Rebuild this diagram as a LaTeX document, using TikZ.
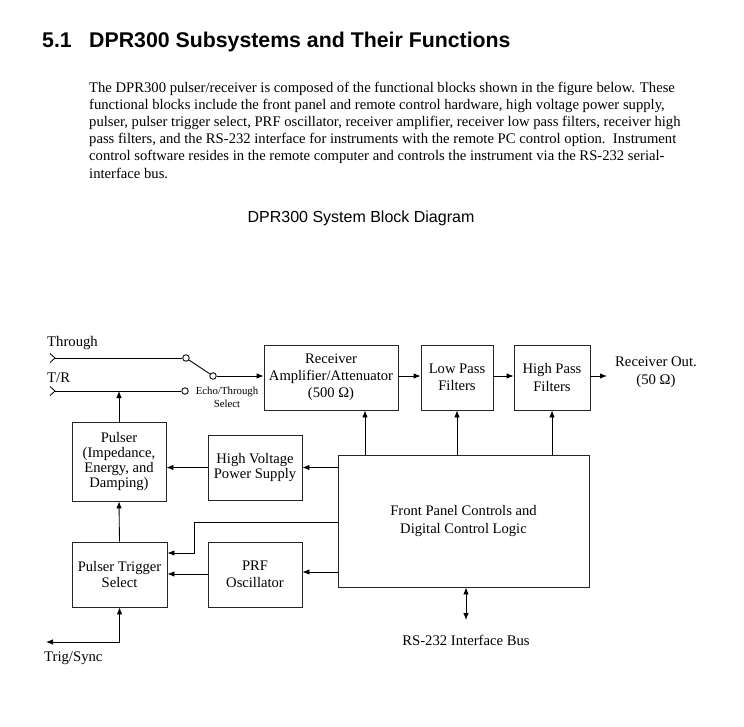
\documentclass[tikz,border=0pt]{standalone}
\usepackage{fontspec}
\setmainfont{Liberation Serif}
\newfontfamily\arialfont{Liberation Sans}
\usetikzlibrary{arrows.meta,calc}
\begin{document}
\begin{tikzpicture}[x=1pt,y=-1pt,
  box/.style={draw=black!85,line width=0.85pt,align=center,inner sep=0pt,font=\fontsize{14.6}{17.2}\selectfont},
  arr/.style={line width=0.85pt,-{Latex[length=7pt,width=5.5pt]}},
  arrb/.style={line width=0.85pt,{Latex[length=7pt,width=5.5pt]}-{Latex[length=7pt,width=5.5pt]}},
  wire/.style={line width=0.85pt},
  sw/.style={circle,draw,fill=white,line width=0.85pt,inner sep=0pt,minimum size=6.5pt},
  lbl/.style={inner sep=0pt,font=\fontsize{14.7}{17.5}\selectfont},
  para/.style={inner sep=0pt,anchor=base west,font=\fontsize{14.65}{17}\selectfont}]
\useasboundingbox (0,0) rectangle (744,727);
% heading
\node[inner sep=0pt,anchor=base west,font=\arialfont\bfseries\fontsize{21.3}{24}\selectfont] (hnum) at (42,48) {5.1};
\node[inner sep=0pt,anchor=base west,font=\arialfont\bfseries\fontsize{21.3}{24}\selectfont] (htxt) at (89,48) {DPR300 Subsystems and Their Functions};
% paragraph
\node[para] (p1) at (89,93) {The DPR300 pulser/receiver is composed of the functional blocks shown in the figure below. These};
\node[para] (p2) at (89,110) {functional blocks include the front panel and remote control hardware, high voltage power supply,};
\node[para] (p3) at (89,127) {pulser, pulser trigger select, PRF oscillator, receiver amplifier, receiver low pass filters, receiver high};
\node[para] (p4) at (89,144) {pass filters, and the RS-232 interface for instruments with the remote PC control option.\ \ Instrument};
\node[para] (p5) at (89,161) {control software resides in the remote computer and controls the instrument via the RS-232 serial-};
\node[para] (p6) at (89,178.5) {interface bus.};
% title
\node[inner sep=0pt,anchor=base,font=\arialfont\fontsize{16}{18}\selectfont] (title) at (361,222.5) {DPR300 System Block Diagram};
% boxes
\node[box,minimum width=134pt,minimum height=65pt] (rx) at (331,377.5) {Receiver\\Amplifier/Attenuator\\(500 Ω)};
\node[box,minimum width=72pt,minimum height=65pt] (lp) at (457,377.5) {Low Pass\\Filters};
\node[box,minimum width=76pt,minimum height=65pt] (hp) at (552,377.5) {High Pass\\Filters};
\node[box,minimum width=251pt,minimum height=132pt] (fp) at (463.5,521) {Front Panel Controls and\\Digital Control Logic};
\node[box,minimum width=94pt,minimum height=79pt,font=\fontsize{14.6}{15.3}\selectfont] (pul) at (119,461.5) {Pulser\\(Impedance,\\Energy, and\\Damping)};
\node[box,minimum width=94pt,minimum height=65pt,font=\fontsize{14.6}{14.8}\selectfont] (hv) at (255,467.5) {High Voltage\\Power Supply};
\node[box,minimum width=95pt,minimum height=65pt,font=\fontsize{14.6}{15.3}\selectfont] (pts) at (119.5,574.5) {Pulser Trigger\\Select};
\node[box,minimum width=94pt,minimum height=65pt] (prf) at (255,574.5) {PRF\\Oscillator};
% labels
\node[lbl,anchor=west] (lthr) at (47,343) {Through};
\node[lbl,anchor=west] (ltr) at (47,378) {T/R};
\node[inner sep=0pt,align=center,font=\fontsize{10.8}{13}\selectfont] (lecho) at (227,397.5) {Echo/Through\\Select};
\node[lbl,align=center] (lout) at (656,372) {Receiver Out.\\(50 Ω)};
\node[lbl] (lrs) at (466,640) {RS-232 Interface Bus};
\node[lbl,anchor=west] (ltrig) at (44,658) {Trig/Sync};
% switch
\node[sw] (s1) at (186,358) {};
\node[sw] (s2) at (213,376) {};
\node[sw] (s3) at (185,391) {};
\coordinate (thr) at (55,358);
\coordinate (tr) at (55,391);
\draw[wire] (50,353.5) -- (thr) -- (50,362.5);
\draw[wire] (50,386.5) -- (tr) -- (50,395.5);
\draw[wire] (thr) -- (s1);
\draw[wire] (tr) -- (s3);
\draw[wire] (s1) -- (s2);
\draw[arr] (s2) -- (rx.west |- s2);
% chain
\draw[arr] (rx.east |- 0,376) -- (lp.west |- 0,376);
\draw[arr] (lp.east |- 0,376) -- (hp.west |- 0,376);
\coordinate (outend) at (607,376);
\draw[arr] (hp.east |- outend) -- (outend);
% control arrows up
\coordinate (cx) at (365,0);
\draw[arr] (cx |- fp.north) -- (cx |- rx.south);
\draw[arr] (lp.south |- fp.north) -- (lp.south);
\draw[arr] (hp.south |- fp.north) -- (hp.south);
% left part
\draw[arr] (pul.north) -- (pul.north |- s3);
\draw[arr] (fp.west |- hv.east) -- (hv.east);
\draw[arr] (hv.west) -- (pul.east |- hv.west);
\coordinate (k1) at (194,522);
\coordinate (k2) at (194,553);
\draw[arr] (fp.west |- k1) -- (k1) -- (k2) -- (pts.east |- k2);
\draw[arr] (fp.west |- 0,572) -- (prf.east |- 0,572);
\draw[arr] (prf.west |- 0,574) -- (pts.east |- 0,574);
\draw[arr] (pts.north) -- (pul.south);
\coordinate (trig) at (46,642);
\draw[arrb] (trig) -| (pts.south);
\coordinate (rsend) at (466,620);
\draw[arrb] (fp.south -| rsend) -- (rsend);
\end{tikzpicture}
\end{document}
